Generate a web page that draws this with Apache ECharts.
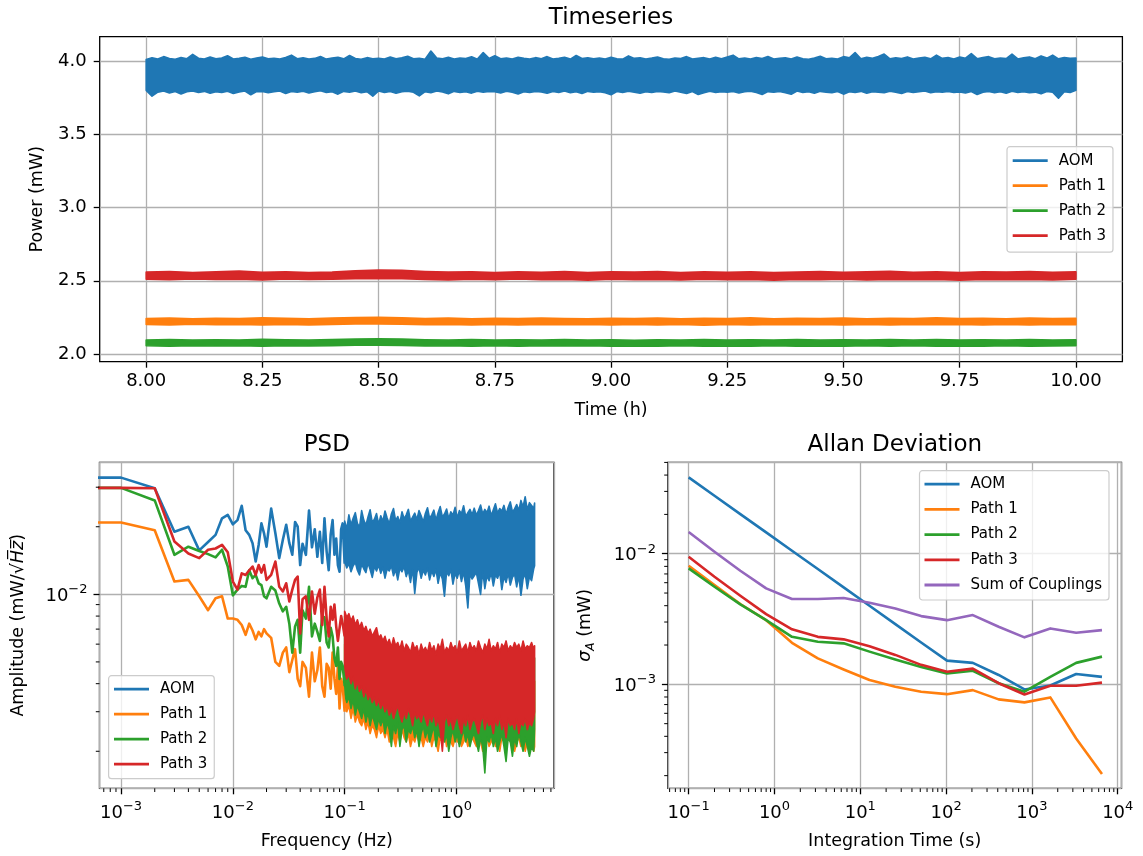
<!DOCTYPE html>
<html><head><meta charset="utf-8">
<script src="https://cdn.jsdelivr.net/npm/echarts@6/dist/echarts.min.js"></script>
<style>html,body{margin:0;padding:0;background:#fff}#c{width:1143px;height:856px}</style>
</head><body><div id="c"></div><script>
// ---------------- DATA ----------------
// Timeseries (time in h): envelope of each noisy trace (upper / lower edge)
const TS_T161 = [8,8.0125,8.025,8.0375,8.05,8.0625,8.075,8.0875,8.1,8.1125,8.125,8.1375,8.15,8.1625,8.175,8.1875,8.2,8.2125,8.225,8.2375,
 8.25,8.2625,8.275,8.2875,8.3,8.3125,8.325,8.3375,8.35,8.3625,8.375,8.3875,8.4,8.4125,8.425,8.4375,8.45,8.4625,8.475,8.4875,
 8.5,8.5125,8.525,8.5375,8.55,8.5625,8.575,8.5875,8.6,8.6125,8.625,8.6375,8.65,8.6625,8.675,8.6875,8.7,8.7125,8.725,8.7375,
 8.75,8.7625,8.775,8.7875,8.8,8.8125,8.825,8.8375,8.85,8.8625,8.875,8.8875,8.9,8.9125,8.925,8.9375,8.95,8.9625,8.975,8.9875,
 9,9.0125,9.025,9.0375,9.05,9.0625,9.075,9.0875,9.1,9.1125,9.125,9.1375,9.15,9.1625,9.175,9.1875,9.2,9.2125,9.225,9.2375,
 9.25,9.2625,9.275,9.2875,9.3,9.3125,9.325,9.3375,9.35,9.3625,9.375,9.3875,9.4,9.4125,9.425,9.4375,9.45,9.4625,9.475,9.4875,
 9.5,9.5125,9.525,9.5375,9.55,9.5625,9.575,9.5875,9.6,9.6125,9.625,9.6375,9.65,9.6625,9.675,9.6875,9.7,9.7125,9.725,9.7375,
 9.75,9.7625,9.775,9.7875,9.8,9.8125,9.825,9.8375,9.85,9.8625,9.875,9.8875,9.9,9.9125,9.925,9.9375,9.95,9.9625,9.975,9.9875,10];
const TS_AOM_HI = [4.010,4.022,4.014,4.030,4.017,4.012,4.024,4.016,4.045,4.019,4.013,4.027,4.015,4.021,4.036,4.014,4.018,4.025,4.012,4.020,
 4.028,4.015,4.019,4.013,4.024,4.040,4.016,4.022,4.014,4.018,4.031,4.013,4.020,4.026,4.015,4.038,4.017,4.012,4.023,4.016,
 4.019,4.014,4.027,4.016,4.022,4.033,4.015,4.018,4.012,4.068,4.021,4.016,4.025,4.014,4.020,4.017,4.029,4.013,4.058,4.018,
 4.036,4.015,4.021,4.014,4.026,4.018,4.013,4.023,4.016,4.030,4.014,4.019,4.025,4.013,4.038,4.017,4.022,4.015,4.020,4.014,
 4.026,4.016,4.013,4.035,4.018,4.022,4.014,4.020,4.027,4.015,4.012,4.021,4.017,4.030,4.014,4.019,4.023,4.013,4.025,4.016,
 4.028,4.040,4.015,4.020,4.013,4.024,4.017,4.031,4.014,4.019,4.022,4.013,4.027,4.016,4.012,4.021,4.033,4.015,4.018,4.014,
 4.030,4.022,4.058,4.016,4.025,4.019,4.031,4.048,4.015,4.022,4.017,4.028,4.014,4.020,4.026,4.015,4.040,4.018,4.023,4.014,
 4.027,4.019,4.050,4.016,4.024,4.030,4.015,4.021,4.017,4.047,4.014,4.022,4.028,4.016,4.035,4.020,4.040,4.015,4.024,4.018,4.020];
const TS_AOM_LO = [3.800,3.760,3.788,3.795,3.782,3.792,3.775,3.790,3.796,3.785,3.793,3.780,3.791,3.786,3.794,3.778,3.789,3.795,3.770,3.791,
 3.793,3.784,3.790,3.796,3.779,3.792,3.787,3.794,3.782,3.791,3.797,3.786,3.790,3.774,3.793,3.788,3.795,3.783,3.791,3.760,
 3.796,3.785,3.792,3.780,3.790,3.794,3.787,3.762,3.791,3.784,3.795,3.789,3.776,3.793,3.786,3.791,3.781,3.794,3.788,3.792,
 3.790,3.782,3.794,3.787,3.775,3.791,3.785,3.793,3.789,3.780,3.792,3.786,3.795,3.783,3.790,3.778,3.793,3.787,3.791,3.784,
 3.770,3.792,3.786,3.794,3.788,3.781,3.791,3.785,3.793,3.789,3.783,3.795,3.787,3.778,3.792,3.772,3.784,3.794,3.786,3.791,
 3.788,3.793,3.782,3.790,3.794,3.785,3.772,3.791,3.787,3.792,3.783,3.773,3.795,3.786,3.791,3.780,3.793,3.788,3.784,3.792,
 3.774,3.790,3.786,3.793,3.781,3.791,3.788,3.784,3.794,3.787,3.778,3.792,3.785,3.790,3.795,3.783,3.791,3.788,3.793,3.786,
 3.789,3.782,3.792,3.772,3.787,3.793,3.784,3.790,3.780,3.794,3.786,3.791,3.783,3.788,3.776,3.792,3.787,3.746,3.790,3.785,3.800];
const TS_T41 = [8.00,8.05,8.10,8.15,8.20,8.25,8.30,8.35,8.40,8.45,8.50,8.55,8.60,8.65,8.70,8.75,8.80,8.85,8.90,8.95,9.00,9.05,9.10,9.15,9.20,9.25,9.30,9.35,9.40,9.45,9.50,9.55,9.60,9.65,9.70,9.75,9.80,9.85,9.90,9.95,10.00];
const TS_P1_HI = [2.243,2.246,2.241,2.245,2.242,2.247,2.244,2.241,2.246,2.249,2.251,2.248,2.243,2.246,2.241,2.245,2.242,2.246,2.243,2.241,2.245,2.242,2.246,2.241,2.244,2.242,2.247,2.241,2.244,2.242,2.246,2.241,2.245,2.243,2.248,2.242,2.244,2.241,2.246,2.243,2.244];
const TS_P1_LO = [2.202,2.199,2.204,2.200,2.203,2.198,2.202,2.199,2.203,2.205,2.206,2.204,2.200,2.203,2.199,2.202,2.198,2.203,2.200,2.202,2.198,2.203,2.199,2.202,2.197,2.202,2.199,2.203,2.200,2.202,2.198,2.203,2.199,2.202,2.200,2.203,2.198,2.202,2.199,2.203,2.201];
const TS_P2_HI = [2.096,2.099,2.095,2.098,2.096,2.101,2.097,2.095,2.099,2.103,2.105,2.102,2.098,2.095,2.099,2.096,2.098,2.095,2.099,2.096,2.098,2.094,2.097,2.095,2.099,2.095,2.098,2.096,2.099,2.095,2.098,2.096,2.099,2.095,2.100,2.096,2.098,2.095,2.099,2.096,2.097];
const TS_P2_LO = [2.057,2.054,2.058,2.055,2.057,2.053,2.058,2.055,2.057,2.060,2.061,2.059,2.055,2.057,2.054,2.057,2.053,2.057,2.055,2.058,2.053,2.056,2.054,2.057,2.053,2.056,2.054,2.057,2.053,2.056,2.054,2.057,2.053,2.057,2.054,2.056,2.053,2.057,2.054,2.056,2.057];
const TS_P3_HI = [2.559,2.563,2.557,2.561,2.566,2.558,2.562,2.557,2.560,2.569,2.573,2.571,2.564,2.559,2.562,2.557,2.561,2.558,2.563,2.557,2.561,2.559,2.564,2.557,2.561,2.558,2.562,2.557,2.560,2.563,2.558,2.561,2.565,2.558,2.561,2.557,2.562,2.559,2.563,2.558,2.561];
const TS_P3_LO = [2.511,2.507,2.513,2.509,2.511,2.506,2.512,2.509,2.511,2.515,2.517,2.515,2.509,2.506,2.511,2.508,2.512,2.507,2.510,2.505,2.511,2.508,2.510,2.506,2.511,2.507,2.510,2.505,2.509,2.507,2.511,2.506,2.510,2.508,2.509,2.505,2.510,2.507,2.509,2.506,2.511];
const TS_X_TICKS = [8.00,8.25,8.50,8.75,9.00,9.25,9.50,9.75,10.00];
const TS_Y_TICKS = [2.0,2.5,3.0,3.5,4.0];

// PSD: resolved low/mid-frequency part (drawn as lines)
const PSD_F_LINE = [0.0005,0.001,0.002,0.003,0.004,0.005,0.006,0.007,0.008,0.009,0.010,0.011,0.012,0.013,0.014,0.015,0.016,0.017,0.018,0.019,0.020,0.022,0.024,0.026,0.028,0.030,0.032,0.034,0.036,0.038,0.040,0.042,0.045,0.048,0.051,0.054,0.057,0.060,0.063,0.066,0.069,0.072,0.075,0.078,0.081,0.084,0.087,0.090,0.093,0.096,0.100];
const PSD_AOM_LINE = [0.0331,0.0331,0.0297,0.0190,0.0200,0.0157,0.0171,0.0184,0.0218,0.0226,0.0205,0.0214,0.0248,0.0193,0.0184,0.0169,0.0140,0.0166,0.0207,0.0187,0.0163,0.0241,0.0187,0.0145,0.0175,0.0204,0.0169,0.0150,0.0210,0.0200,0.0135,0.0168,0.0150,0.0236,0.0162,0.0195,0.0147,0.0190,0.0138,0.0218,0.0155,0.0128,0.0185,0.0214,0.0150,0.0177,0.0135,0.0126,0.0195,0.0207,0.0137];
const PSD_P1_LINE = [0.0209,0.0209,0.0193,0.0114,0.0116,0.0098,0.0085,0.0096,0.0098,0.0078,0.0078,0.0077,0.0073,0.0066,0.0074,0.0069,0.0063,0.0068,0.0065,0.0070,0.0067,0.0064,0.0050,0.0048,0.0055,0.0058,0.0045,0.0051,0.0057,0.0042,0.0039,0.0050,0.0047,0.0035,0.0055,0.0041,0.0046,0.0058,0.0039,0.0035,0.0049,0.0047,0.0038,0.0055,0.0042,0.0036,0.0048,0.0031,0.0042,0.0039,0.0030];
const PSD_P2_LINE = [0.0298,0.0298,0.0262,0.0150,0.0163,0.0156,0.0151,0.0146,0.0158,0.0133,0.0099,0.0105,0.0109,0.0108,0.0128,0.0118,0.0122,0.0112,0.0110,0.0098,0.0096,0.0108,0.0104,0.0091,0.0084,0.0088,0.0074,0.0055,0.0072,0.0077,0.0055,0.0085,0.0078,0.0108,0.0065,0.0074,0.0068,0.0062,0.0080,0.0079,0.0061,0.0058,0.0071,0.0065,0.0052,0.0048,0.0058,0.0042,0.0050,0.0048,0.0039];
const PSD_P3_LINE = [0.0298,0.0298,0.0297,0.0172,0.0152,0.0145,0.0158,0.0160,0.0166,0.0154,0.0114,0.0105,0.0124,0.0122,0.0128,0.0133,0.0122,0.0135,0.0125,0.0135,0.0116,0.0122,0.0140,0.0108,0.0103,0.0112,0.0093,0.0105,0.0116,0.0120,0.0067,0.0095,0.0098,0.0077,0.0103,0.0082,0.0097,0.0105,0.0073,0.0108,0.0078,0.0065,0.0088,0.0077,0.0090,0.0072,0.0062,0.0061,0.0080,0.0074,0.0065];
// PSD: dense high-frequency part (upper / lower edge of the noise band)
const PSD_F_HI = [0.1,0.1045,0.1091,0.114,0.1191,0.1245,0.13,0.1358,0.1419,0.1483,0.1549,0.1618,0.169,0.1766,0.1845,0.1928,0.2014,0.2104,0.2198,0.2296,
 0.2399,0.2506,0.2618,0.2735,0.2858,0.2985,0.3119,0.3258,0.3404,0.3556,0.3715,0.3882,0.4055,0.4236,0.4426,0.4624,0.4831,0.5047,0.5272,0.5508,
 0.5754,0.6012,0.6281,0.6561,0.6855,0.7161,0.7482,0.7816,0.8166,0.8531,0.8913,0.9311,0.9727,1.016,1.062,1.109,1.159,1.211,1.265,1.321,
 1.38,1.442,1.507,1.574,1.644,1.718,1.795,1.875,1.959,2.046,2.138,2.234,2.333,2.438,2.547,2.661,2.78,2.904,3.034,3.17,
 3.311,3.459,3.614,3.776,3.945,4.121,4.305,4.498,4.699,4.909,5.0];
const PSD_AOM_UP = [0.0212,0.0195,0.0226,0.0204,0.0218,0.0231,0.0207,0.0199,0.0236,0.0214,0.0203,0.0221,0.0238,0.0209,0.0216,0.0229,0.0205,
 0.0224,0.0211,0.0235,0.0219,0.0206,0.0228,0.0241,0.0213,0.0222,0.0208,0.0233,0.0217,0.0226,0.0239,0.0212,0.0221,0.0230,0.0215,0.0236,0.0224,0.0210,
 0.0229,0.0243,0.0218,0.0226,0.0237,0.0214,0.0231,0.0246,0.0221,0.0228,0.0240,0.0217,0.0233,0.0225,0.0244,0.0219,0.0236,0.0229,0.0248,0.0222,0.0231,0.0239,0.0226,
 0.0242,0.0225,0.0236,0.0250,0.0228,0.0239,0.0231,0.0247,0.0224,0.0238,0.0253,0.0230,0.0241,0.0235,0.0249,0.0227,0.0244,0.0258,0.0233,0.0240,0.0251,0.0236,0.0262,0.0245,0.0272,0.0238,0.0256,0.0249,0.0241,0.0255];
const PSD_AOM_DN = [0.0140,0.0131,0.0137,0.0126,0.0134,0.0139,0.0128,0.0122,0.0136,0.0130,0.0125,0.0138,0.0129,0.0119,0.0133,0.0127,0.0135,
 0.0124,0.0132,0.0118,0.0130,0.0127,0.0134,0.0121,0.0129,0.0116,0.0131,0.0126,0.0133,0.0120,0.0128,0.0113,0.0130,0.0101,0.0125,0.0132,0.0118,0.0128,
 0.0122,0.0131,0.0116,0.0127,0.0120,0.0129,0.0112,0.0125,0.0117,0.0098,0.0126,0.0121,0.0129,0.0111,0.0124,0.0118,0.0128,0.0114,0.0126,0.0109,0.0087,0.0123,0.0117,
 0.0121,0.0125,0.0112,0.0100,0.0127,0.0106,0.0121,0.0115,0.0125,0.0109,0.0122,0.0118,0.0126,0.0105,0.0120,0.0113,0.0124,0.0110,0.0119,0.0123,0.0108,0.0121,0.0099,0.0117,0.0124,0.0106,0.0120,0.0115,0.0130,0.0134];
const PSD_P1_UP = [0.0060,0.0055,0.0058,0.0052,0.0056,0.0050,0.0053,0.0048,0.0051,0.0047,0.0050,0.0045,0.0048,0.0044,0.0047,0.0049,0.0043,
 0.0046,0.0042,0.0045,0.0041,0.0044,0.0040,0.0045,0.0041,0.0043,0.0040,0.0044,0.0039,0.0042,0.0041,0.0038,0.0043,0.0040,0.0042,0.0038,0.0043,0.0040,
 0.0042,0.0039,0.0044,0.0040,0.0042,0.0038,0.0043,0.0040,0.0044,0.0039,0.0041,0.0040,0.0043,0.0039,0.0042,0.0040,0.0044,0.0039,0.0041,0.0043,0.0039,0.0042,0.0040,
 0.0042,0.0039,0.0043,0.0041,0.0038,0.0042,0.0040,0.0044,0.0039,0.0042,0.0040,0.0043,0.0039,0.0042,0.0041,0.0043,0.0039,0.0042,0.0040,0.0043,0.0041,0.0042,0.0039,0.0043,0.0040,0.0042,0.0041,0.0043,0.0040,0.0041];
const PSD_P1_DN = [0.0033,0.0030,0.0032,0.0028,0.0031,0.0027,0.0029,0.0027,0.0026,0.0028,0.0025,0.0027,0.0024,0.0026,0.0025,0.0023,0.0026,
 0.0024,0.0025,0.0023,0.0025,0.0022,0.0024,0.0023,0.0021,0.0024,0.0022,0.0025,0.0023,0.0022,0.0024,0.0021,0.0023,0.0022,0.0024,0.0022,0.0023,0.0021,
 0.0023,0.0022,0.0024,0.0021,0.0023,0.0022,0.0020,0.0023,0.0022,0.0024,0.0021,0.0023,0.0022,0.0021,0.0023,0.0022,0.0024,0.0021,0.0022,0.0023,0.0021,0.0022,0.0023,
 0.0022,0.0021,0.0023,0.0022,0.0020,0.0022,0.0023,0.0021,0.0022,0.0024,0.0021,0.0022,0.0020,0.0023,0.0022,0.0021,0.0023,0.0022,0.0021,0.0020,0.0022,0.0023,0.0021,0.0022,0.0020,0.0022,0.0021,0.0022,0.0020,0.0021];
const PSD_P2_UP = [0.0080,0.0074,0.0077,0.0071,0.0075,0.0068,0.0072,0.0066,0.0070,0.0063,0.0067,0.0061,0.0065,0.0059,0.0063,0.0066,0.0058,
 0.0060,0.0056,0.0059,0.0054,0.0057,0.0052,0.0058,0.0053,0.0055,0.0051,0.0056,0.0050,0.0054,0.0052,0.0049,0.0055,0.0051,0.0053,0.0048,0.0054,0.0050,
 0.0052,0.0049,0.0055,0.0050,0.0053,0.0048,0.0054,0.0051,0.0056,0.0049,0.0052,0.0050,0.0055,0.0051,0.0053,0.0049,0.0056,0.0050,0.0052,0.0054,0.0049,0.0055,0.0051,
 0.0053,0.0050,0.0056,0.0052,0.0049,0.0054,0.0051,0.0056,0.0050,0.0053,0.0051,0.0055,0.0049,0.0054,0.0052,0.0056,0.0050,0.0053,0.0051,0.0055,0.0052,0.0054,0.0050,0.0056,0.0051,0.0053,0.0052,0.0055,0.0051,0.0052];
const PSD_P2_DN = [0.0036,0.0033,0.0035,0.0031,0.0034,0.0029,0.0032,0.0030,0.0028,0.0031,0.0027,0.0030,0.0026,0.0029,0.0027,0.0025,0.0028,
 0.0026,0.0028,0.0024,0.0027,0.0025,0.0021,0.0026,0.0024,0.0027,0.0021,0.0025,0.0026,0.0022,0.0025,0.0024,0.0026,0.0023,0.0025,0.0021,0.0024,0.0026,
 0.0023,0.0025,0.0022,0.0024,0.0026,0.0021,0.0024,0.0023,0.0025,0.0022,0.0024,0.0020,0.0023,0.0025,0.0022,0.0024,0.0021,0.0023,0.0025,0.0022,0.0024,0.0021,0.0023,
 0.0024,0.0022,0.0020,0.0023,0.0021,0.0016,0.0023,0.0022,0.0024,0.0021,0.0023,0.0020,0.0022,0.0024,0.0021,0.0018,0.0023,0.0022,0.0019,0.0023,0.0021,0.0024,0.0022,0.0020,0.0023,0.0021,0.0019,0.0021,0.0020,0.0025];
const PSD_P3_UP = [0.0084,0.0079,0.0082,0.0076,0.0080,0.0073,0.0077,0.0071,0.0075,0.0069,0.0072,0.0067,0.0070,0.0065,0.0068,0.0071,0.0064,
 0.0066,0.0062,0.0065,0.0060,0.0063,0.0058,0.0064,0.0059,0.0061,0.0057,0.0062,0.0056,0.0060,0.0058,0.0055,0.0061,0.0057,0.0059,0.0054,0.0060,0.0056,
 0.0058,0.0055,0.0061,0.0056,0.0059,0.0054,0.0060,0.0057,0.0063,0.0055,0.0058,0.0056,0.0061,0.0057,0.0059,0.0055,0.0062,0.0056,0.0058,0.0060,0.0055,0.0061,0.0057,
 0.0059,0.0056,0.0062,0.0058,0.0055,0.0060,0.0057,0.0063,0.0056,0.0059,0.0057,0.0061,0.0055,0.0060,0.0058,0.0062,0.0056,0.0059,0.0057,0.0061,0.0058,0.0060,0.0056,0.0062,0.0057,0.0059,0.0058,0.0061,0.0057,0.0059];
const PSD_P3_DN = [0.0046,0.0042,0.0044,0.0040,0.0043,0.0038,0.0041,0.0037,0.0039,0.0035,0.0038,0.0034,0.0036,0.0033,0.0035,0.0032,0.0034,
 0.0031,0.0033,0.0030,0.0032,0.0029,0.0031,0.0028,0.0030,0.0032,0.0029,0.0027,0.0030,0.0028,0.0031,0.0029,0.0026,0.0030,0.0028,0.0029,0.0027,0.0030,
 0.0028,0.0026,0.0029,0.0027,0.0030,0.0026,0.0028,0.0025,0.0020,0.0027,0.0029,0.0026,0.0028,0.0025,0.0027,0.0029,0.0026,0.0024,0.0028,0.0026,0.0029,0.0025,0.0027,
 0.0028,0.0026,0.0024,0.0027,0.0029,0.0025,0.0028,0.0026,0.0027,0.0024,0.0028,0.0026,0.0029,0.0025,0.0027,0.0023,0.0028,0.0026,0.0027,0.0025,0.0028,0.0024,0.0027,0.0026,0.0028,0.0025,0.0027,0.0026,0.0028,0.0030];

// Allan deviation
const ALLAN_TAU = [0.1,0.2,0.4,0.8,1.6,3.2,6.4,12.8,25.6,51.2,102.4,204.8,409.6,819.2,1638.4,3276.8,6553.6];
const ALLAN_AOM = [0.0384,0.0278,0.0201,0.01456,0.01054,0.00763,0.00552,0.00400,0.00289,0.00209,0.00152,0.00146,0.00118,0.000914,0.00098,0.00120,0.00114];
const ALLAN_P1  = [0.00809,0.00575,0.00412,0.00310,0.00208,0.00158,0.00130,0.00108,0.000959,0.000878,0.000841,0.000903,0.000767,0.000728,0.000794,0.000385,0.000206];
const ALLAN_P2  = [0.00772,0.00558,0.00409,0.00310,0.00231,0.00212,0.00206,0.00178,0.00155,0.00136,0.00121,0.00127,0.00102,0.000878,0.00114,0.00146,0.00163];
const ALLAN_P3  = [0.00948,0.00667,0.00477,0.00345,0.00264,0.00231,0.00221,0.00196,0.00168,0.00141,0.00125,0.00132,0.00102,0.000837,0.000975,0.000975,0.00103];
const ALLAN_SUM = [0.01466,0.01035,0.00741,0.00543,0.00450,0.00450,0.00458,0.00422,0.00381,0.00333,0.00310,0.00339,0.00276,0.00229,0.00268,0.00248,0.00260];

// minor tick positions of the log axes
const PSD_X_MINOR = [7e-4,8e-4,9e-4,2e-3,3e-3,4e-3,5e-3,6e-3,7e-3,8e-3,9e-3,0.02,0.03,0.04,0.05,0.06,0.07,0.08,0.09,0.2,0.3,0.4,0.5,0.6,0.7,0.8,0.9,2,3,4,5,6,7];
const PSD_Y_MINOR = [0.002,0.003,0.004,0.005,0.006,0.007,0.008,0.009,0.02,0.03];
const ALLAN_X_MINOR = [0.06,0.07,0.08,0.09,0.2,0.3,0.4,0.5,0.6,0.7,0.8,0.9,2,3,4,5,6,7,8,9,20,30,40,50,60,70,80,90,200,300,400,500,600,700,800,900,2000,3000,4000,5000,6000,7000,8000,9000];
const ALLAN_Y_MINOR = [2e-4,3e-4,4e-4,5e-4,6e-4,7e-4,8e-4,9e-4,0.002,0.003,0.004,0.005,0.006,0.007,0.008,0.009,0.02,0.03,0.04,0.05];

// ---------------- STYLE ----------------
const FONT = 'DejaVu Sans';
const COL = {AOM:'#1f77b4', P1:'#ff7f0e', P2:'#2ca02c', P3:'#d62728', SUM:'#9467bd'};
const LW = 2.6, BAND_LW = 1.6;
const GRID_C = '#b0b0b0';
const TS_X = [7.9, 10.1], TS_Y = [1.948, 4.166];
const PSD_X = [6.41e-4, 7.46], PSD_Y = [1.368e-3, 3.873e-2];
const AL_X = [0.0573, 11066], AL_Y = [1.60e-4, 0.0501];

function sciFmt(v) {
  const e = Math.round(Math.log10(v));
  return '{b|10}{s|' + (e < 0 ? '\u2212' : '') + Math.abs(e) + '}';
}
const RICH = {
  b: {fontSize: 18, lineHeight: 18, verticalAlign: 'bottom', fontFamily: FONT, color: '#000'},
  s: {fontSize: 13, padding: [0, 0, 9, 0], verticalAlign: 'top', fontFamily: FONT, color: '#000'}
};
const tickStyle = {show: true, length: 6, lineStyle: {color: '#000', width: 1.3}};
const splitStyle = {show: true, lineStyle: {color: GRID_C, width: 1.3}};
const nameStyle = {fontSize: 17.5, fontFamily: FONT, color: '#000'};

function logAxis(grid, ext, name, gap, nameTS) {
  return {
    type: 'log', logBase: 10, gridIndex: grid, min: ext[0], max: ext[1],
    axisLine: {show: false}, axisTick: tickStyle, splitLine: splitStyle,
    minorTick: {show: false}, minorSplitLine: {show: false},
    axisLabel: {show: true, interval: 0, showMinLabel: false, showMaxLabel: false, margin: 12,
                formatter: sciFmt, rich: RICH, fontFamily: FONT, color: '#000'},
    name: name, nameLocation: 'middle', nameGap: gap, nameTextStyle: nameTS || nameStyle,
    nameMoveOverlap: false, silent: true
  };
}

function band(name, color, xs, lo, hi, ax) {
  const n = Math.min(xs.length, lo.length, hi.length);
  return {
    type: 'custom', name: name, xAxisIndex: ax, yAxisIndex: ax, clip: true, silent: true,
    color: color, itemStyle: {color: color},
    data: [[xs[0], lo[0]]],
    renderItem: function (params, api) {
      const pts = [];
      for (let i = 0; i < n; i++) pts.push(api.coord([xs[i], hi[i]]));
      for (let i = n - 1; i >= 0; i--) pts.push(api.coord([xs[i], lo[i]]));
      return {type: 'polygon', shape: {points: pts},
              style: {fill: color, stroke: color, lineWidth: BAND_LW, lineJoin: 'round'}};
    }
  };
}
function line(name, color, xs, ys, ax) {
  return {
    type: 'line', name: name, xAxisIndex: ax, yAxisIndex: ax, silent: true, clip: true,
    data: xs.map((x, i) => [x, ys[i]]), showSymbol: false, symbol: 'none',
    color: color, itemStyle: {color: color}, lineStyle: {color: color, width: LW, join: 'round'}
  };
}
function minorTicks(ax, vals, dir, xmin, ymin) {
  return {
    type: 'custom', xAxisIndex: ax, yAxisIndex: ax, silent: true, clip: false, z: 5,
    data: [[xmin, ymin]],
    renderItem: function (params, api) {
      const ch = vals.map(function (v) {
        if (dir === 'x') {
          const p = api.coord([v, ymin]);
          return {type: 'line', shape: {x1: p[0], y1: p[1], x2: p[0], y2: p[1] + 3.7}, style: {stroke: '#000', lineWidth: 1}};
        }
        const p = api.coord([xmin, v]);
        return {type: 'line', shape: {x1: p[0], y1: p[1], x2: p[0] - 3.7, y2: p[1]}, style: {stroke: '#000', lineWidth: 1}};
      });
      return {type: 'group', children: ch};
    }
  };
}
function legend(names, left, top, pad, gap) {
  return {
    data: names, orient: 'vertical', left: left, top: top, icon: 'rect',
    itemWidth: 35, itemHeight: 2.8, itemGap: gap, padding: pad, selectedMode: false,
    backgroundColor: 'rgba(255,255,255,0.8)', borderColor: '#cccccc', borderWidth: 1.2, borderRadius: 3,
    itemStyle: {borderWidth: 0},
    textStyle: {fontSize: 15, lineHeight: 15, color: '#000', fontFamily: FONT, padding: [0, 0, 0, 6]}
  };
}
const titleStyle = {fontSize: 23, lineHeight: 23, fontWeight: 'normal', fontFamily: FONT, color: '#000'};

const option = {
  animation: false,
  backgroundColor: '#fff',
  textStyle: {fontFamily: FONT},
  title: [
    {text: 'Timeseries', left: 611, top: 6.7, textAlign: 'center', padding: 0, textStyle: titleStyle},
    {text: 'PSD', left: 326.8, top: 433.4, textAlign: 'center', padding: 0, textStyle: titleStyle},
    {text: 'Allan Deviation', left: 894.8, top: 433.4, textAlign: 'center', padding: 0, textStyle: titleStyle}
  ],
  grid: [
    {left: 99.7, top: 36.7, width: 1022.7, height: 325, show: true, borderColor: '#000', borderWidth: 1.3, outerBoundsMode: 'none'},
    {left: 99.5, top: 462.3, width: 454.5, height: 326, show: true, borderColor: '#000', borderWidth: 1.3, outerBoundsMode: 'none'},
    {left: 667.9, top: 462.3, width: 453.6, height: 326, show: true, borderColor: '#000', borderWidth: 1.3, outerBoundsMode: 'none'}
  ],
  xAxis: [
    {type: 'value', gridIndex: 0, min: TS_X[0], max: TS_X[1], axisLine: {show: false},
     axisTick: Object.assign({customValues: TS_X_TICKS}, tickStyle), splitLine: splitStyle,
     axisLabel: {customValues: TS_X_TICKS, formatter: v => v.toFixed(2), margin: 11, fontSize: 18, color: '#000', fontFamily: FONT},
     name: 'Time (h)', nameLocation: 'middle', nameGap: 40, nameTextStyle: nameStyle, nameMoveOverlap: false, silent: true},
    logAxis(1, PSD_X, 'Frequency (Hz)', 44),
    logAxis(2, AL_X, 'Integration Time (s)', 44)
  ],
  yAxis: [
    {type: 'value', gridIndex: 0, min: TS_Y[0], max: TS_Y[1], axisLine: {show: false},
     axisTick: Object.assign({customValues: TS_Y_TICKS}, tickStyle), splitLine: splitStyle,
     axisLabel: {customValues: TS_Y_TICKS, formatter: v => v.toFixed(1), margin: 13, fontSize: 18, color: '#000', fontFamily: FONT},
     name: 'Power (mW)', nameLocation: 'middle', nameGap: 53, nameTextStyle: nameStyle, nameMoveOverlap: false, silent: true},
    logAxis(1, PSD_Y, '{n|Amplitude (mW/\u221A}{h|H\u0305z\u0305}{n|)}', 72,
      {fontSize: 17.5, fontFamily: FONT, color: '#000', rich: {
        n: {fontSize: 17.5, fontFamily: FONT, color: '#000'},
        h: {fontSize: 17.5, fontFamily: FONT, fontStyle: 'italic', color: '#000'}}}),
    logAxis(2, AL_Y, '{i|\u03C3}{sub|A}{n| (mW)}', 71,
      {fontSize: 17.5, fontFamily: FONT, color: '#000', rich: {
        n: {fontSize: 17.5, fontFamily: FONT, color: '#000'},
        i: {fontSize: 17.5, fontFamily: FONT, fontStyle: 'italic', color: '#000'},
        sub: {fontSize: 12, fontFamily: FONT, fontStyle: 'italic', color: '#000', padding: [10, 0, 0, 0], verticalAlign: 'bottom'}}})
  ],
  legend: [
    legend(['AOM', 'Path 1', 'Path 2', 'Path 3'], 1007, 146.7, [6.5, 7, 9, 5.7], 10),
    legend(['AOM', 'Path 1', 'Path 2', 'Path 3'], 108.6, 675.7, [6, 7, 7, 5.4], 10),
    legend(['AOM', 'Path 1', 'Path 2', 'Path 3', 'Sum of Couplings'], 919.5, 470.7, [6, 7, 7.5, 5], 10.2)
  ],
  series: [
    band('AOM', COL.AOM, TS_T161, TS_AOM_LO, TS_AOM_HI, 0),
    band('Path 1', COL.P1, TS_T41, TS_P1_LO, TS_P1_HI, 0),
    band('Path 2', COL.P2, TS_T41, TS_P2_LO, TS_P2_HI, 0),
    band('Path 3', COL.P3, TS_T41, TS_P3_LO, TS_P3_HI, 0),

    line('AOM', COL.AOM, PSD_F_LINE, PSD_AOM_LINE, 1),
    band('AOM', COL.AOM, PSD_F_HI, PSD_AOM_DN, PSD_AOM_UP, 1),
    line('Path 1', COL.P1, PSD_F_LINE, PSD_P1_LINE, 1),
    band('Path 1', COL.P1, PSD_F_HI, PSD_P1_DN, PSD_P1_UP, 1),
    line('Path 2', COL.P2, PSD_F_LINE, PSD_P2_LINE, 1),
    band('Path 2', COL.P2, PSD_F_HI, PSD_P2_DN, PSD_P2_UP, 1),
    line('Path 3', COL.P3, PSD_F_LINE, PSD_P3_LINE, 1),
    band('Path 3', COL.P3, PSD_F_HI, PSD_P3_DN, PSD_P3_UP, 1),

    line('AOM', COL.AOM, ALLAN_TAU, ALLAN_AOM, 2),
    line('Path 1', COL.P1, ALLAN_TAU, ALLAN_P1, 2),
    line('Path 2', COL.P2, ALLAN_TAU, ALLAN_P2, 2),
    line('Path 3', COL.P3, ALLAN_TAU, ALLAN_P3, 2),
    line('Sum of Couplings', COL.SUM, ALLAN_TAU, ALLAN_SUM, 2),

    minorTicks(1, PSD_X_MINOR, 'x', PSD_X[0], PSD_Y[0]),
    minorTicks(1, PSD_Y_MINOR, 'y', PSD_X[0], PSD_Y[0]),
    minorTicks(2, ALLAN_X_MINOR, 'x', AL_X[0], AL_Y[0]),
    minorTicks(2, ALLAN_Y_MINOR, 'y', AL_X[0], AL_Y[0])
  ]
};
const chart = echarts.init(document.getElementById('c'), null, {renderer: 'canvas'});
chart.setOption(option);
</script></body></html>
